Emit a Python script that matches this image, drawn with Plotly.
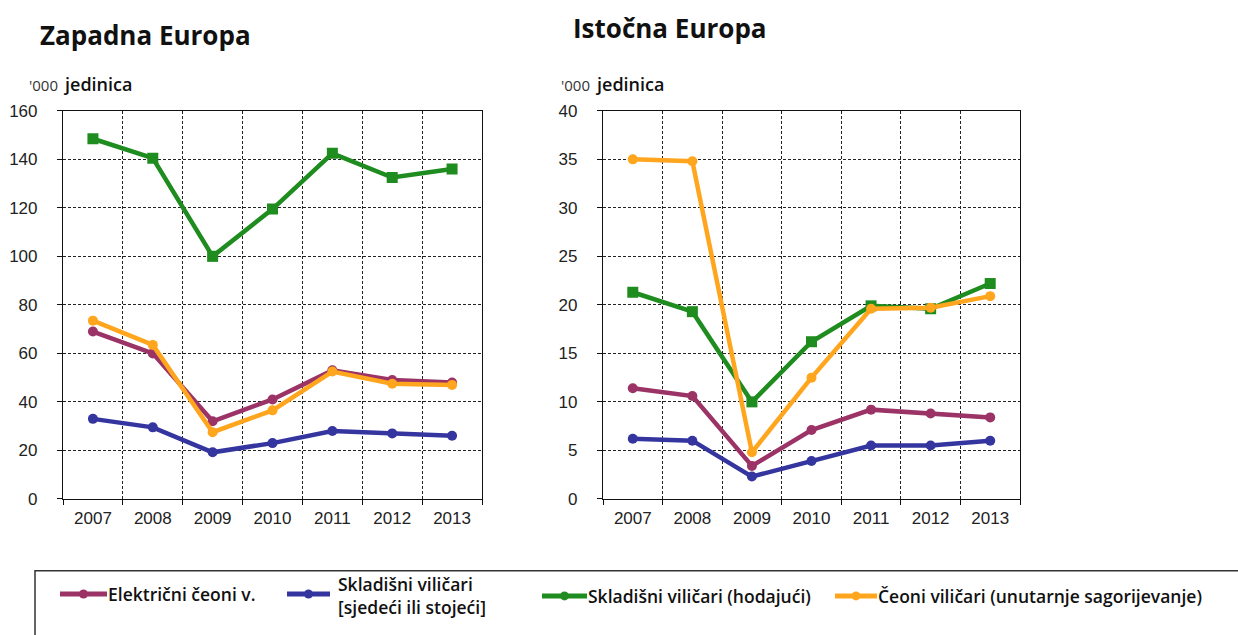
import plotly.graph_objects as go

W, H = 1238, 635

years = ["2007", "2008", "2009", "2010", "2011", "2012", "2013"]
series_names = [
    "Električni čeoni v.",
    "Skladišni viličari<br>[sjedeći ili stojeći]",
    "Skladišni viličari (hodajući)",
    "Čeoni viličari (unutarnje sagorijevanje)",
]
colors = ["#9B3366", "#3535A0", "#1E8C1E", "#FFA51E"]
symbols = ["circle", "circle", "square", "circle"]

# Zapadna Europa ('000 units)
west_elec = [69, 60, 32, 41, 53, 49, 48]
west_sklad_sjed = [33, 29.5, 19.2, 23, 28, 27, 26]
west_sklad_hod = [148.5, 140.5, 100, 119.5, 142.5, 132.5, 136]
west_ceoni_ic = [73.5, 63.5, 27.5, 36.5, 52.5, 47.5, 47]

# Istočna Europa ('000 units)
east_elec = [11.4, 10.6, 3.4, 7.1, 9.2, 8.8, 8.4]
east_sklad_sjed = [6.2, 6.0, 2.3, 3.9, 5.5, 5.5, 6.0]
east_sklad_hod = [21.3, 19.3, 10.0, 16.2, 19.9, 19.6, 22.2]
east_ceoni_ic = [35.0, 34.8, 4.8, 12.5, 19.6, 19.7, 20.9]

west = [west_elec, west_sklad_sjed, west_sklad_hod, west_ceoni_ic]
east = [east_elec, east_sklad_sjed, east_sklad_hod, east_ceoni_ic]


def px(x):
    return x / W


def py(y):
    return 1 - y / H


fig = go.Figure()
for axes, data in ((("x", "y"), west), (("x2", "y2"), east)):
    for i in range(4):
        fig.add_trace(go.Scatter(
            x=years, y=data[i], mode="lines+markers", xaxis=axes[0], yaxis=axes[1],
            line=dict(color=colors[i], width=4.5),
            marker=dict(color=colors[i], symbol=symbols[i],
                        size=11 if symbols[i] == "square" else 10),
            showlegend=False, name=series_names[i]))

tickfont = dict(family="Liberation Sans, Arial, sans-serif", size=17, color="#222")
common_x = dict(
    type="category", range=[-0.5, 6.5], tickson="boundaries",
    showgrid=True, gridcolor="#222", griddash="3px,2px", gridwidth=1,
    showline=True, linecolor="#111", linewidth=1.2, mirror=True,
    ticks="outside", ticklen=5, tickcolor="#111", tickfont=tickfont,
    ticklabelstandoff=4, zeroline=False, fixedrange=True,
)
common_y = dict(
    showgrid=True, gridcolor="#222", griddash="3px,2px", gridwidth=1,
    showline=True, linecolor="#111", linewidth=1.2, mirror=True,
    ticks="outside", ticklen=5, tickcolor="#111", tickfont=tickfont,
    ticklabelstandoff=16, zeroline=False, fixedrange=True,
)

fig.update_layout(
    width=W, height=H,
    margin=dict(l=0, r=0, t=0, b=0),
    paper_bgcolor="white", plot_bgcolor="white",
    showlegend=False,
    xaxis=dict(domain=[px(63), px(482)], anchor="y", **common_x),
    yaxis=dict(domain=[py(505), py(105)], anchor="x", range=[0, 160], dtick=20, **common_y),
    xaxis2=dict(domain=[px(603), px(1020)], anchor="y2", **common_x),
    yaxis2=dict(domain=[py(505), py(105)], anchor="x2", range=[0, 40], dtick=5, **common_y),
)

title_font = dict(family="Open Sans, sans-serif", size=26, color="#111", weight="bold")
sub_font_small = dict(family="Open Sans, sans-serif", size=15, color="#333")
sub_font = dict(family="Open Sans, sans-serif", size=18, color="#111", weight=600)

ann = []
ann.append(dict(text="Zapadna Europa", x=px(38), y=py(27), xref="paper", yref="paper",
                xanchor="left", yanchor="middle", showarrow=False, font=title_font))
ann.append(dict(text="Istočna Europa", x=px(571), y=py(20), xref="paper", yref="paper",
                xanchor="left", yanchor="middle", showarrow=False, font=title_font))
for x0 in (27, 559):
    ann.append(dict(text="'000", x=px(x0), y=py(78), xref="paper", yref="paper",
                    xanchor="left", yanchor="middle", showarrow=False, font=sub_font_small))
    ann.append(dict(text="jedinica", x=px(x0 + 34), y=py(77), xref="paper", yref="paper",
                    xanchor="left", yanchor="middle", showarrow=False, font=sub_font))

# Legend (drawn manually)
shapes = [dict(type="rect", xref="paper", yref="paper", x0=px(35), x1=px(1260),
               y0=py(579), y1=py(660), line=dict(color="#333", width=1.5),
               fillcolor="rgba(0,0,0,0)")]
leg_font = dict(family="Open Sans, sans-serif", size=17.5, color="#111", weight=600)
leg_items = [
    (60, 107, 603, 106, 603),
    (287, 330, 603, 336, 605),
    (542, 587, 605, 586, 605),
    (835, 877, 605, 876, 605),
]
for i, (lx0, lx1, ly, tx, ty) in enumerate(leg_items):
    shapes.append(dict(type="line", xref="paper", yref="paper",
                       x0=px(lx0), x1=px(lx1), y0=py(ly), y1=py(ly),
                       line=dict(color=colors[i], width=5)))
    shapes.append(dict(type="circle", xref="paper", yref="paper",
                       xsizemode="pixel", ysizemode="pixel",
                       xanchor=px((lx0 + lx1) / 2), yanchor=py(ly),
                       x0=-4.5, x1=4.5, y0=-4.5, y1=4.5,
                       fillcolor=colors[i], line=dict(color=colors[i], width=0)))
    ann.append(dict(text=series_names[i], x=px(tx), y=py(ty), xref="paper", yref="paper",
                    xanchor="left", yanchor="middle", align="left", showarrow=False,
                    font=leg_font))

fig.update_layout(annotations=ann, shapes=shapes)
fig.write_html(
    "out.html",
    config={"displayModeBar": False},
    post_script="document.body.style.margin='0';document.body.style.overflow='hidden';",
)
